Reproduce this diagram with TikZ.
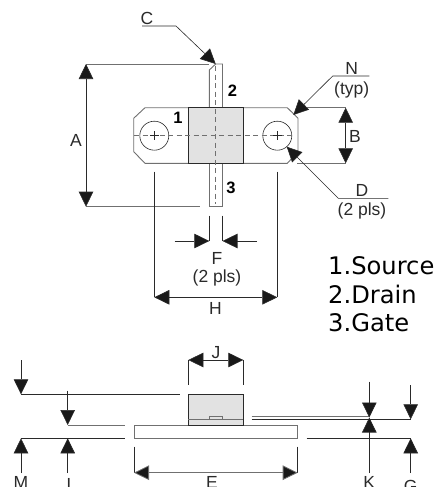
\documentclass[tikz,border=0pt]{standalone}
\usepackage{fontspec}
\setmainfont{Liberation Sans}
\newfontfamily\legendfont{DejaVu Sans}
\usetikzlibrary{arrows.meta}
\definecolor{ink}{HTML}{2A2A2A}
\definecolor{soft}{HTML}{707070}
\definecolor{fillgray}{HTML}{E2E2E2}
\tikzset{
  x=1pt,y=-1pt,
  part/.style={draw=soft,line width=0.9pt},
  edge/.style={draw=ink,line width=0.7pt},
  hair/.style={draw=ink,line width=0.6pt},
  softline/.style={draw=soft,line width=0.8pt},
  center/.style={draw=soft,line width=0.6pt,dash pattern=on 5pt off 3.5pt},
  tip/.style={-{Triangle[length=15pt,width=14.5pt,fill=black!90]}},
  tips/.style={{Triangle[length=15pt,width=14.5pt,fill=black!90]}-{Triangle[length=15pt,width=14.5pt,fill=black!90]}},
  lbl/.style={inner sep=0pt,font=\fontsize{17.5}{18}\selectfont,text=ink},
  num/.style={inner sep=0pt,font=\fontsize{16.5}{18}\selectfont\bfseries,text=black},
  legend/.style={inner sep=0pt,anchor=base west,font=\fontsize{24.2}{26}\legendfont,text=black}
}
\begin{document}
\begin{tikzpicture}
\useasboundingbox (0,0) rectangle (435,487);
\clip (0,0) rectangle (435,487);
% coordinates
\coordinate (cTip) at (215.7,64);
% flange top view
\draw[part] (145,107.7) -- (287.3,107.7) -- (298,118.3) -- (298,151.7) -- (287.3,163.3) -- (145,163.3) -- (133.7,151.7) -- (133.7,118.3) -- cycle;
\draw[part] (209.3,107.7) -- (209.3,70) -- (215.7,64) -- (222.5,64) -- (222.5,107.7);
\draw[part] (209.3,163.3) -- (209.3,206.7) -- (222.5,206.7) -- (222.5,163.3);
\draw[edge,fill=fillgray] (188.3,107.7) rectangle (243.3,163.3);
\node[circle,draw=ink,line width=0.6pt,minimum size=29pt,inner sep=0pt] (holeL) at (154.3,135.7) {};
\node[circle,draw=ink,line width=0.6pt,minimum size=29pt,inner sep=0pt] (holeR) at (277.3,135.7) {};
\draw[center] (134,135.7) -- (293,135.7);
\draw[center] (215.7,66) -- (215.7,204);
\draw[hair] (150,135.7) -- (158.6,135.7) (154.3,131.4) -- (154.3,140);
\draw[hair] (273,135.7) -- (281.6,135.7) (277.3,131.4) -- (277.3,140);
% A
\draw[softline] (86,64) -- (209.3,64);
\draw[softline] (86,206.7) -- (200,206.7);
\draw[hair,tips] (86,64) -- (86,206.7);
\node[lbl] (lA) at (76,140) {A};
% C
\coordinate (c1) at (142,26);
\coordinate (c2) at (176,26);
\draw[hair,tip] (c1) -- (c2) -- (cTip);
\node[lbl] (lC) at (147,18.5) {C};
% numbers
\node[num] (n1) at (178,118) {1};
\node[num] (n2) at (232.5,90.5) {2};
\node[num] (n3) at (231,188) {3};
% N
\coordinate (n1a) at (369.3,76);
\coordinate (n1b) at (332.7,76);
\draw[hair,tip] (n1a) -- (n1b) -- (293.3,115);
\node[lbl] (lN) at (351.7,68) {N};
\node[lbl] (lT) at (351.7,90) {(typ)};
% B
\draw[softline] (306.7,107.7) -- (345.7,107.7);
\draw[softline] (297,163.3) -- (345.7,163.3);
\draw[hair,tips] (345.7,107.7) -- (345.7,163.3);
\node[lbl] (lB) at (355,136) {B};
% D
\coordinate (d1) at (388.3,198.3);
\coordinate (d2) at (338.3,198.3);
\draw[hair,tip] (d1) -- (d2) -- (286.7,146.7);
\node[lbl] (lD) at (362,190) {D};
\node[lbl] (lP) at (362,210.5) {(2 pls)};
% F
\draw[hair] (209.3,215.7) -- (209.3,241);
\draw[hair] (222.5,215.7) -- (222.5,241);
\draw[hair,tip] (174.7,241) -- (209.3,241);
\draw[hair,tip] (257,241) -- (222.5,241);
\node[lbl] (lF) at (217,258.5) {F};
\node[lbl] (lFp) at (217,278) {(2 pls)};
% H
\draw[hair] (154.3,171.7) -- (154.3,297.3);
\draw[hair] (277.3,171.7) -- (277.3,297.3);
\draw[hair,tips] (154.3,297.3) -- (277.3,297.3);
\node[lbl] (lH) at (215.5,308.5) {H};
% legend
\node[legend] (s1) at (328,274) {1.Source};
\node[legend] (s2) at (328,303) {2.Drain};
\node[legend] (s3) at (328,331) {3.Gate};
% side view
\draw[part] (134,425) rectangle (297.7,438.3);
\draw[edge,fill=fillgray] (188.3,394.3) rectangle (243.3,425);
\draw[part] (188.3,419.3) -- (243.3,419.3);
\draw[part] (209.3,419.3) -- (209.3,416.7) -- (222.3,416.7) -- (222.3,419.3);
% J
\draw[hair] (188.3,360) -- (188.3,385);
\draw[hair] (243.3,360) -- (243.3,385);
\draw[hair,tips] (188.3,360) -- (243.3,360);
\node[lbl] (lJ) at (216,353) {J};
% left dims
\draw[hair] (21,394.3) -- (180,394.3);
\draw[softline] (67.7,425) -- (125,425);
\draw[hair] (21,438.3) -- (125,438.3);
\draw[hair,tip] (21,360) -- (21,394.3);
\draw[hair,tip] (67.7,390.7) -- (67.7,425);
\draw[hair,tip] (21,473) -- (21,438.3);
\draw[hair,tip] (67.7,473) -- (67.7,438.3);
\node[lbl] (lM) at (21,482.5) {M};
\node[lbl] (lL) at (71.5,484.5) {L};
% E
\draw[hair] (134,446.7) -- (134,472.7);
\draw[hair] (297.7,446.7) -- (297.7,472.7);
\draw[softline,tips] (134,472.7) -- (297.7,472.7);
\node[lbl] (lE) at (212,482.5) {E};
% right dims
\draw[softline] (251.7,416) -- (369.3,416);
\draw[hair] (251.7,419.3) -- (410.7,419.3);
\draw[hair] (306.7,438.3) -- (410.7,438.3);
\draw[hair,tip] (369.3,381.7) -- (369.3,417.5);
\draw[hair,tip] (369.3,473) -- (369.3,417.5);
\draw[hair,tip] (410.7,385) -- (410.7,419.3);
\draw[hair,tip] (410.7,473) -- (410.7,438.3);
\node[lbl] (lK) at (369.3,482.5) {K};
\node[lbl] (lG) at (410.7,486.5) {G};
\end{tikzpicture}
\end{document}
